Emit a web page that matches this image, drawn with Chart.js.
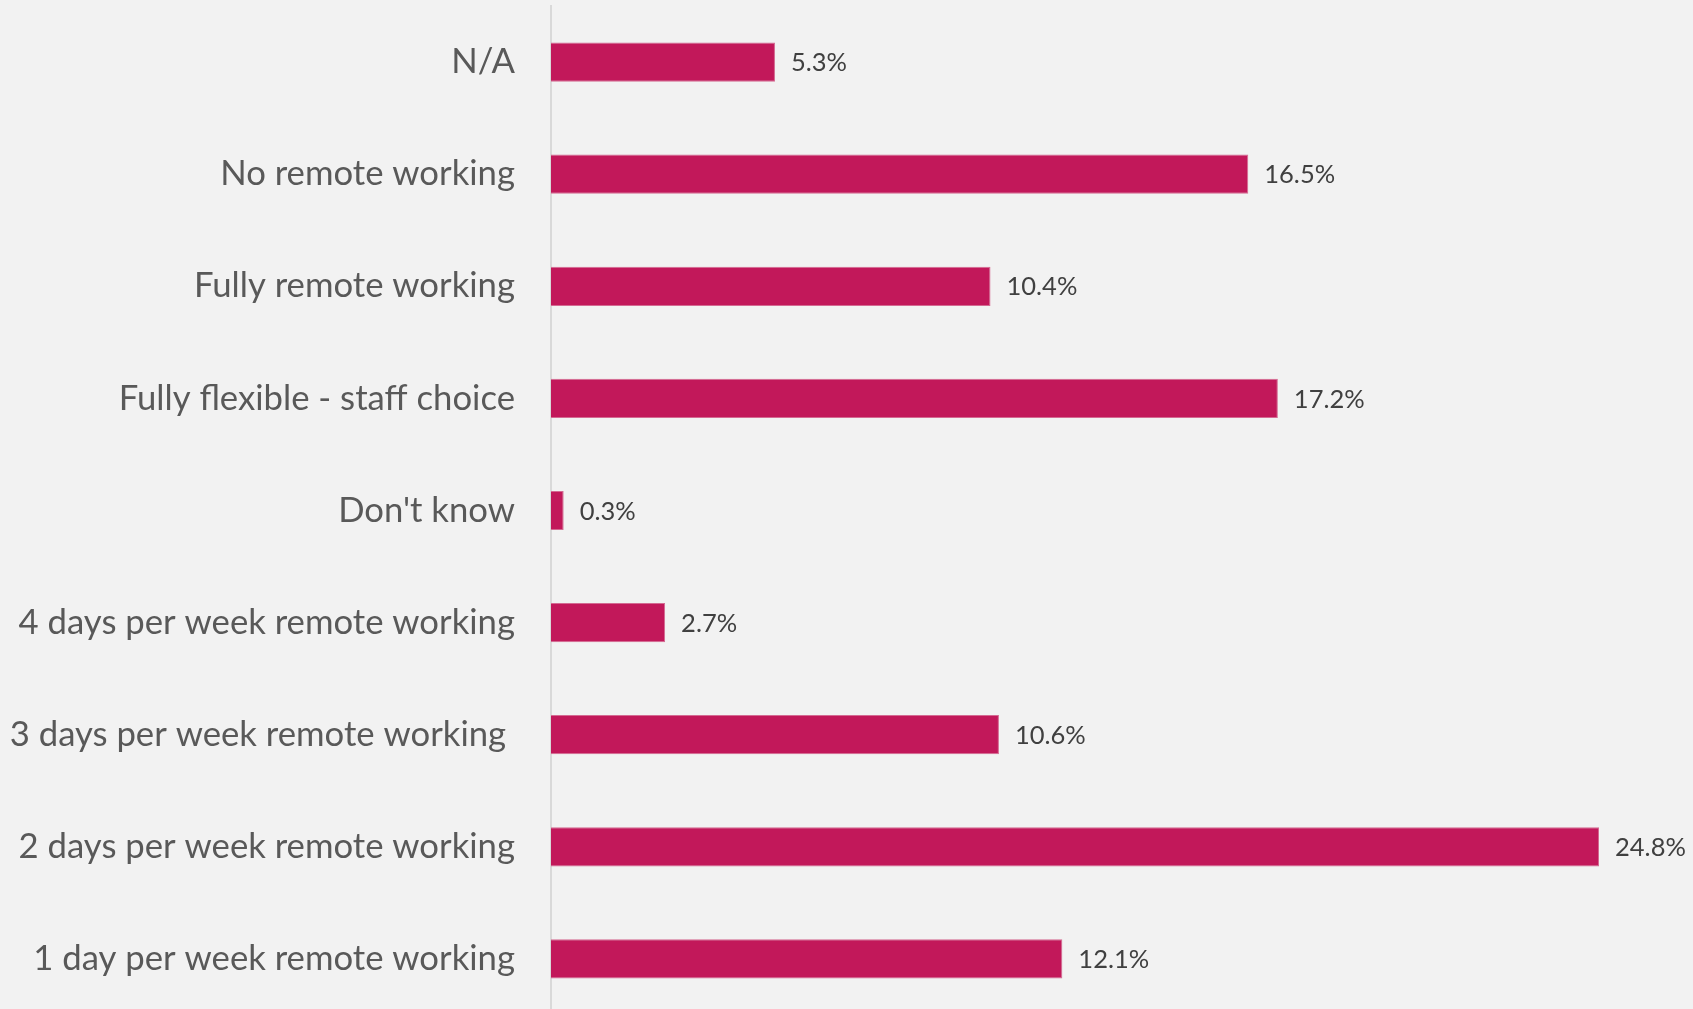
<!DOCTYPE html>
<html>
<head>
<meta charset="utf-8">
<title>Remote working arrangements</title>
<script src="https://cdn.jsdelivr.net/npm/chart.js@4.4.1/dist/chart.umd.min.js"></script>
<style>
    html, body {
        margin: 0;
        padding: 0;
        background: #f2f2f2;
        overflow: hidden;
    }
    #wrap {
        position: relative;
        width: 1693px;
        height: 1015px;
    }
</style>
</head>
<body>
<div id="wrap"><canvas id="remote-chart"></canvas></div>
<script>
// Survey answers, top to bottom
const categories = [
    'N/A',
    'No remote working',
    'Fully remote working',
    'Fully flexible - staff choice',
    "Don't know",
    '4 days per week remote working',
    '3 days per week remote working ',
    '2 days per week remote working',
    '1 day per week remote working'
];

// Share of respondents, percent
const shares = [5.3, 16.5, 10.4, 17.2, 0.3, 2.7, 10.6, 24.8, 12.1];

const FONT = 'Lato, "Open Sans", sans-serif';

// Writes the percentage just past the end of each bar
const valueLabels = {
    id: 'valueLabels',
    afterDatasetsDraw(chart) {
        const ctx = chart.ctx;
        const meta = chart.getDatasetMeta(0);
        ctx.save();
        ctx.font = '25.5px ' + FONT;
        ctx.fillStyle = '#404040';
        ctx.textAlign = 'left';
        ctx.textBaseline = 'middle';
        meta.data.forEach((bar, i) => {
            const value = chart.data.datasets[0].data[i];
            ctx.fillText(value.toFixed(1) + '%', bar.x + 16, bar.y + 1);
        });
        ctx.restore();
    }
};

const ctx = document.getElementById('remote-chart').getContext('2d');

const remoteChart = new Chart(ctx, {
    type: 'bar',
    data: {
        labels: categories,
        datasets: [{
            data: shares,
            backgroundColor: '#c2185a',
            borderColor: '#d46a92',
            borderWidth: 1,
            borderSkipped: 'start',
            barPercentage: 0.35,
            categoryPercentage: 1
        }]
    },
    options: {
        indexAxis: 'y',
        responsive: true,
        maintainAspectRatio: false,
        animation: false,
        layout: {
            padding: { top: 6, right: 1, bottom: 0, left: 0 }
        },
        plugins: {
            legend: { display: false },
            tooltip: { enabled: false }
        },
        scales: {
            x: {
                display: false,
                min: 0,
                max: 27
            },
            y: {
                afterFit(scale) {
                    // fixed gutter for the labels; tick padding
                    // should not eat into the height
                    scale.width = 551;
                    scale.paddingTop = 0;
                    scale.paddingBottom = 0;
                },
                grid: {
                    display: false,
                    drawTicks: false
                },
                border: {
                    display: true,
                    color: '#d9d9d9',
                    width: 2
                },
                ticks: {
                    padding: 36,
                    color: '#595959',
                    font: { family: FONT, size: 34.7 }
                }
            }
        }
    },
    plugins: [valueLabels]
});
</script>
</body>
</html>
